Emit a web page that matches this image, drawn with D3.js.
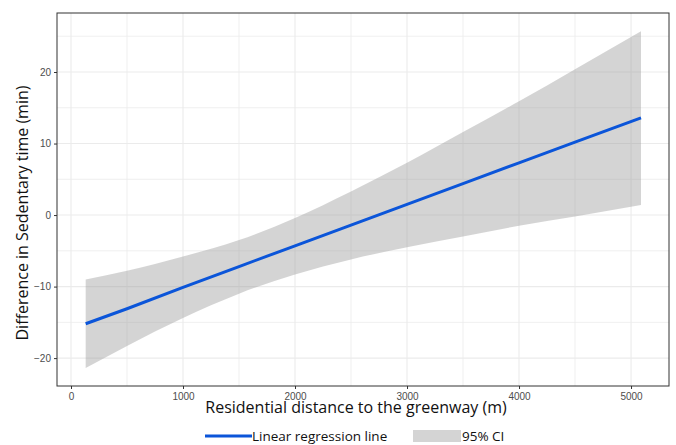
<!DOCTYPE html>
<html>
<head>
<meta charset="utf-8">
<script src="https://cdn.jsdelivr.net/npm/d3@7"></script>
<style>
  body { margin: 0; background: #fff; }
  svg { display: block; }
</style>
</head>
<body>
<svg id="chart"></svg>
<script>
// distance values (m) where the band was read
const distance = [131, 500, 1000, 1500, 2000, 2500, 3000, 3500, 4000, 4500, 5089];
// fitted line (min)
const fitted = [-15.2, -13.1, -10.1, -7.2, -4.3, -1.4, 1.5, 4.4, 7.3, 10.2, 13.6];
// 95% CI bounds (min)
const upper = [-9.0, -7.8, -5.8, -3.5, -0.4, 3.3, 7.3, 11.6, 15.9, 20.4, 25.7];
const lower = [-21.4, -18.3, -14.4, -11.0, -8.3, -6.2, -4.5, -3.0, -1.5, -0.2, 1.4];

const xTicks = [0, 1000, 2000, 3000, 4000, 5000];
const yTicks = [-20, -10, 0, 10, 20];

const width = 676;
const height = 445;
const margin = { top: 13, right: 7, bottom: 59, left: 57 };
const innerWidth = width - margin.left - margin.right;
const innerHeight = height - margin.top - margin.bottom;

const svg = d3.select('#chart')
  .attr('width', width)
  .attr('height', height);

const g = svg.append('g')
  .attr('transform', `translate(${margin.left},${margin.top})`);

const x = d3.scaleLinear().domain([-125, 5339]).range([0, innerWidth]);
const y = d3.scaleLinear().domain([-23.9, 28.25]).range([innerHeight, 0]);

// grid, major + minor
const xGrid = d3.range(0, 5501, 500).filter(d => x(d) < innerWidth);
const yGrid = d3.range(-20, 28, 5);

g.append('g').selectAll('line')
  .data(xGrid)
  .enter().append('line')
  .attr('x1', d => x(d)).attr('x2', d => x(d))
  .attr('y1', 0).attr('y2', innerHeight)
  .attr('stroke', '#ebebeb')
  .attr('stroke-width', d => d % 1000 === 0 ? 1.1 : 0.8);

g.append('g').selectAll('line')
  .data(yGrid)
  .enter().append('line')
  .attr('x1', 0).attr('x2', innerWidth)
  .attr('y1', d => y(d)).attr('y2', d => y(d))
  .attr('stroke', '#ebebeb')
  .attr('stroke-width', d => d % 10 === 0 ? 1.1 : 0.8);

const rows = distance.map((d, i) => ({ d, fit: fitted[i], lo: lower[i], hi: upper[i] }));

// confidence band
g.append('path')
  .datum(rows)
  .attr('fill', '#999999')
  .attr('fill-opacity', 0.42)
  .attr('d', d3.area()
    .x(r => x(r.d))
    .y0(r => y(r.lo))
    .y1(r => y(r.hi))
    .curve(d3.curveMonotoneX));

// regression line
g.append('path')
  .datum(rows)
  .attr('fill', 'none')
  .attr('stroke', '#0b55d9')
  .attr('stroke-width', 3)
  .attr('d', d3.line().x(r => x(r.d)).y(r => y(r.fit)));

// panel border
g.append('rect')
  .attr('width', innerWidth)
  .attr('height', innerHeight)
  .attr('fill', 'none')
  .attr('stroke', '#333')
  .attr('stroke-width', 1);

// axes
const xAxis = g.append('g')
  .attr('transform', `translate(0,${innerHeight})`)
  .call(d3.axisBottom(x).tickValues(xTicks).tickFormat(d3.format('d')).tickSize(3).tickPadding(4));
const yAxis = g.append('g')
  .call(d3.axisLeft(y).tickValues(yTicks).tickFormat(d3.format('d')).tickSize(3).tickPadding(3));

[xAxis, yAxis].forEach(a => {
  a.select('.domain').remove();
  a.selectAll('.tick line').attr('stroke', '#333');
  a.selectAll('text')
    .style('font-family', 'Liberation Sans, Arial, sans-serif')
    .style('font-size', '10px')
    .attr('fill', '#4d4d4d');
});

const titleFont = 'Open Sans, Noto Sans, sans-serif';

svg.append('text')
  .attr('x', 356)
  .attr('y', 413)
  .attr('text-anchor', 'middle')
  .style('font-family', titleFont)
  .style('font-size', '16px')
  .attr('fill', '#111')
  .text('Residential distance to the greenway (m)');

svg.append('text')
  .attr('transform', 'translate(28,213) rotate(-90)')
  .attr('text-anchor', 'middle')
  .style('font-family', titleFont)
  .style('font-size', '16px')
  .attr('fill', '#111')
  .text('Difference in Sedentary time (min)');

// legend
const legend = svg.append('g');
legend.append('line')
  .attr('x1', 205).attr('x2', 252)
  .attr('y1', 436).attr('y2', 436)
  .attr('stroke', '#0b55d9')
  .attr('stroke-width', 3);
legend.append('text')
  .attr('x', 252).attr('y', 441)
  .style('font-family', titleFont)
  .style('font-size', '13.5px')
  .attr('fill', '#111')
  .text('Linear regression line');
legend.append('rect')
  .attr('x', 413).attr('y', 430)
  .attr('width', 48).attr('height', 12)
  .attr('fill', '#999999')
  .attr('fill-opacity', 0.42);
legend.append('text')
  .attr('x', 462).attr('y', 441)
  .style('font-family', titleFont)
  .style('font-size', '13.5px')
  .attr('fill', '#111')
  .text('95% CI');
</script>
</body>
</html>
